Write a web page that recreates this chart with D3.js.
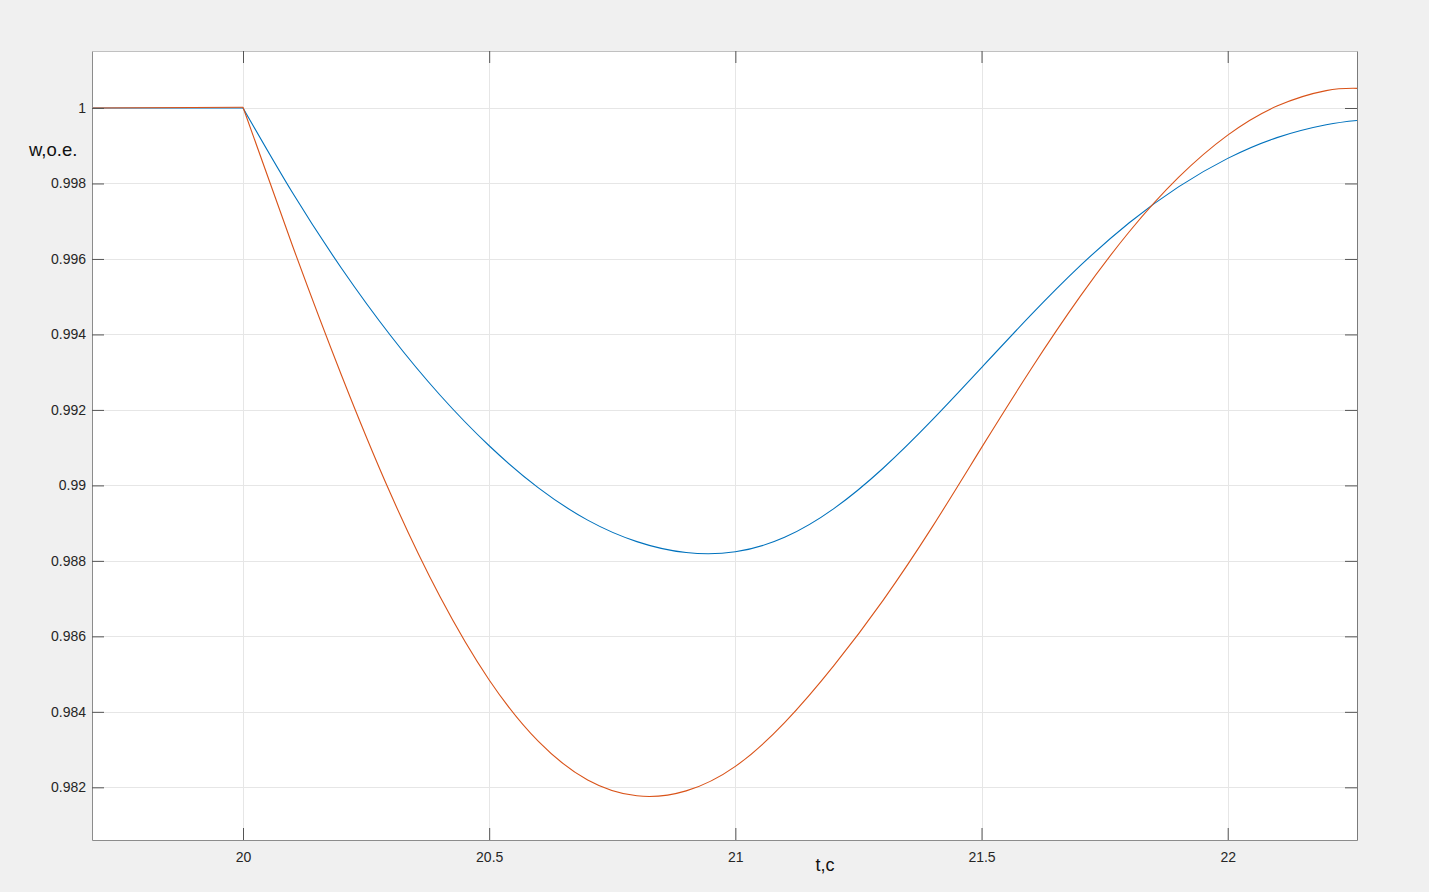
<!DOCTYPE html>
<html>
<head>
<meta charset="utf-8">
<script src="https://cdn.jsdelivr.net/npm/d3@7/dist/d3.min.js"></script>
<style>
  html, body { margin: 0; padding: 0; background: #f0f0f0; }
  svg { display: block; }
  text { font-family: "Liberation Sans", Arial, Helvetica, sans-serif; }
</style>
</head>
<body>
<svg id="chart" width="1429" height="892"></svg>
<script>
// ---- data ----
const xTicks = [20, 20.5, 21, 21.5, 22];
const xTickLabels = ["20", "20.5", "21", "21.5", "22"];
const yTicks = [0.982, 0.984, 0.986, 0.988, 0.99, 0.992, 0.994, 0.996, 0.998, 1];
const yTickLabels = ["0.982", "0.984", "0.986", "0.988", "0.99", "0.992", "0.994", "0.996", "0.998", "1"];
const xDomain = [19.6933, 22.2626];
const yDomain = [0.980604, 1.00151];

// blue series: pre-disturbance (flat) part and response
const blueFlatT = [19.6933, 20.0];
const blueFlatW = [1.0, 1.0];
const blueT = [20.0, 20.1, 20.2, 20.3, 20.4, 20.5, 20.6, 20.7, 20.8, 20.9, 21.0, 21.1, 21.2, 21.3, 21.4, 21.5, 21.6, 21.7, 21.8, 21.9, 22.0, 22.1, 22.2, 22.2626];
const blueW = [1.0, 0.997765, 0.995755, 0.993965, 0.992395, 0.99105, 0.989935, 0.98908, 0.98851, 0.98822, 0.98824, 0.988625, 0.989385, 0.990455, 0.991735, 0.99312, 0.99451, 0.995815, 0.99696, 0.99791, 0.998665, 0.999215, 0.999555, 0.999668];

// orange series
const orangeFlatT = [19.6933, 20.0];
const orangeFlatW = [1.0, 1.00002];
const orangeT = [20.0, 20.1, 20.2, 20.3, 20.4, 20.5, 20.6, 20.7, 20.8, 20.9, 21.0, 21.1, 21.2, 21.3, 21.4, 21.5, 21.6, 21.7, 21.8, 21.9, 22.0, 22.1, 22.2, 22.2626];
const orangeW = [1.00002, 0.99637, 0.99292, 0.98977, 0.987055, 0.984845, 0.983215, 0.982195, 0.981775, 0.981905, 0.982555, 0.983715, 0.985225, 0.986955, 0.98890, 0.99100, 0.99307, 0.99500, 0.99672, 0.99816, 0.99928, 1.00005, 1.00046, 1.00052];

// ---- layout ----
const L = 92, T = 51, R = 1357, B = 840;
const svg = d3.select("#chart");

const x = d3.scaleLinear().domain(xDomain).range([L, R]);
const y = d3.scaleLinear().domain(yDomain).range([B, T]);

// plot background
svg.append("rect").attr("x", L).attr("y", T).attr("width", R - L).attr("height", B - T).attr("fill", "#ffffff");

// grid
const grid = svg.append("g");
grid.selectAll("line.gx").data(xTicks).enter().append("line")
  .attr("x1", d => Math.round(x(d)) + 0.5).attr("x2", d => Math.round(x(d)) + 0.5)
  .attr("y1", T).attr("y2", B).attr("stroke", "#e6e6e6").attr("stroke-width", 1);
grid.selectAll("line.gy").data(yTicks).enter().append("line")
  .attr("y1", d => Math.round(y(d)) + 0.5).attr("y2", d => Math.round(y(d)) + 0.5)
  .attr("x1", L).attr("x2", R).attr("stroke", "#e6e6e6").attr("stroke-width", 1);

// lines
svg.append("clipPath").attr("id", "clip").append("rect")
  .attr("x", L).attr("y", T).attr("width", R - L).attr("height", B - T);
const plot = svg.append("g").attr("clip-path", "url(#clip)");

const lineLin = d3.line().x(d => x(d[0])).y(d => y(d[1]));
const lineCurve = d3.line().x(d => x(d[0])).y(d => y(d[1])).curve(d3.curveNatural);
const zip = (a, b) => a.map((v, i) => [v, b[i]]);

function drawSeries(flatT, flatW, t, w, color) {
  plot.append("path").attr("d", lineLin(zip(flatT, flatW)))
    .attr("fill", "none").attr("stroke", color).attr("stroke-width", 1.1);
  plot.append("path").attr("d", lineCurve(zip(t, w)))
    .attr("fill", "none").attr("stroke", color).attr("stroke-width", 1.1);
}
drawSeries(blueFlatT, blueFlatW, blueT, blueW, "#0072BD");
drawSeries(orangeFlatT, orangeFlatW, orangeT, orangeW, "#D95319");

// axes (box style with inward ticks)
const tickLen = 12;
const axisColor = "#8c8c8c";
const xAxisB = d3.axisBottom(x).tickValues(xTicks).tickSizeInner(-tickLen).tickSizeOuter(0)
  .tickPadding(12).tickFormat((d, i) => xTickLabels[i]);
const xAxisT = d3.axisTop(x).tickValues(xTicks).tickSizeInner(-tickLen).tickSizeOuter(0).tickFormat("");
const yAxisL = d3.axisLeft(y).tickValues(yTicks).tickSizeInner(-tickLen).tickSizeOuter(0)
  .tickPadding(6).tickFormat((d, i) => yTickLabels[i]);
const yAxisR = d3.axisRight(y).tickValues(yTicks).tickSizeInner(-tickLen).tickSizeOuter(0).tickFormat("");

function styleAxis(g) {
  g.select(".domain").attr("stroke", axisColor);
  g.selectAll(".tick line").attr("stroke", "#555");
  g.selectAll(".tick text").attr("fill", "#262626").attr("font-size", 14)
    .attr("font-family", "'Liberation Sans', Arial, Helvetica, sans-serif");
}
svg.append("g").attr("transform", `translate(0,${B})`).call(xAxisB).call(styleAxis);
svg.append("g").attr("transform", `translate(0,${T})`).call(xAxisT).call(styleAxis)
  .select(".domain").attr("stroke", "#c0c0c0");
svg.append("g").attr("transform", `translate(${L},0)`).call(yAxisL).call(styleAxis);
svg.append("g").attr("transform", `translate(${R},0)`).call(yAxisR).call(styleAxis)
  .select(".domain").attr("stroke", "#7a7a7a");

// axis labels
svg.append("text").attr("x", 29).attr("y", 156).attr("font-size", 18.5).attr("fill", "#111")
  .attr("font-family", "'Open Sans', 'Noto Sans', sans-serif").text("w,o.e.");
svg.append("text").attr("x", 825).attr("y", 871).attr("text-anchor", "middle").attr("font-size", 18)
  .attr("fill", "#111").attr("font-family", "'Open Sans', 'Noto Sans', sans-serif").text("t,c");
</script>
</body>
</html>
